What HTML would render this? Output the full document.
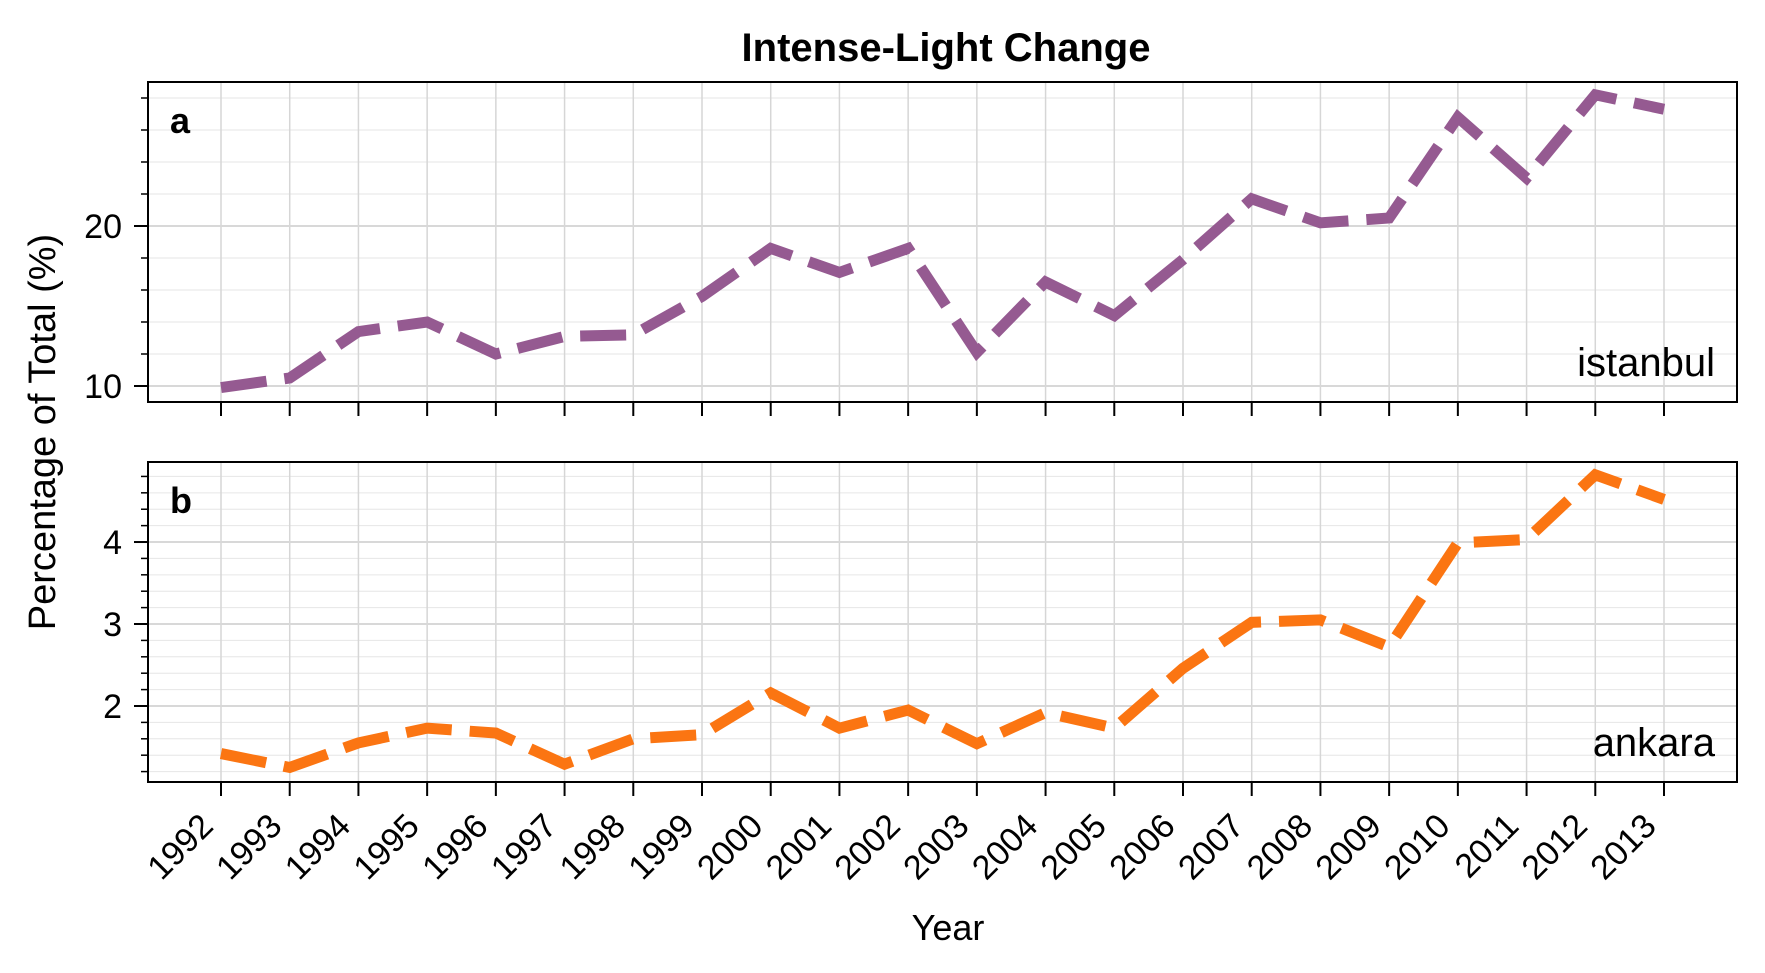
<!DOCTYPE html>
<html><head><meta charset="utf-8"><style>
html,body{margin:0;padding:0;background:#fff;}
svg{display:block;font-family:"Liberation Sans",sans-serif;}
</style></head><body>
<svg id="chart" width="1765" height="973" viewBox="0 0 1765 973" xmlns="http://www.w3.org/2000/svg"></svg>
<script>
const years = [1992,1993,1994,1995,1996,1997,1998,1999,2000,2001,2002,2003,2004,2005,2006,2007,2008,2009,2010,2011,2012,2013];
const istanbul = [9.9,10.5,13.4,14.0,12.0,13.1,13.2,15.6,18.6,17.1,18.6,12.1,16.5,14.4,17.9,21.7,20.2,20.5,26.8,23.0,28.2,27.3];
const ankara = [1.42,1.25,1.55,1.73,1.67,1.29,1.60,1.65,2.16,1.73,1.95,1.54,1.92,1.73,2.46,3.02,3.05,2.72,3.99,4.03,4.82,4.52];
const ticksA = [10,20];
const ticksB = [2,3,4];

const NS='http://www.w3.org/2000/svg';
const svg=document.getElementById('chart');
function mk(tag,attrs,parent){const e=document.createElementNS(NS,tag);for(const k in attrs)e.setAttribute(k,attrs[k]);(parent||svg).appendChild(e);return e;}
const L=148,R=1737;
const x=v=>221+(v-1992)*(1664-221)/21;

function panel(cfg){
  const g=mk('g',{});
  
  
  const y=v=>cfg.bot-(v-cfg.d0)/(cfg.d1-cfg.d0)*(cfg.bot-cfg.top);
  for(let v=Math.ceil(cfg.d0/cfg.minor-1e-6)*cfg.minor; v<=cfg.d1; v+=cfg.minor){
    const yy=y(v);
    const ln=mk('line',{x1:L,x2:R,y1:yy,y2:yy,stroke:'#e6e6e6','stroke-width':1},g);
    
    
    const t=mk('line',{x1:L,x2:L-7,y1:yy,y2:yy,stroke:'#000','stroke-width':1.5},g);
    
    
  }
  years.forEach(yr=>{
    const xx=x(yr);
    const ln=mk('line',{x1:xx,x2:xx,y1:cfg.top,y2:cfg.bot,stroke:'#d6d6d6','stroke-width':1.5},g);
    
    
    const t=mk('line',{x1:xx,x2:xx,y1:cfg.bot,y2:cfg.bot+14,stroke:'#000','stroke-width':2},g);
    
    
  });
  cfg.ticks.forEach(v=>{
    const yy=y(v);
    const ln=mk('line',{x1:L,x2:R,y1:yy,y2:yy,stroke:'#d8d8d8','stroke-width':2},g);
    
    
    const t=mk('line',{x1:L,x2:L-14,y1:yy,y2:yy,stroke:'#000','stroke-width':2},g);
    
    
    const tx=mk('text',{x:L-26,y:yy+12,'text-anchor':'end','font-size':34},g);
    tx.textContent=v;
    
    
  });
  const pts=cfg.data.map((v,i)=>x(years[i])+','+y(v)).join(' ');
  const pl=mk('polyline',{points:pts,fill:'none',stroke:cfg.color,'stroke-width':11,'stroke-dasharray':'46 18','stroke-linejoin':'miter'},g);
  
  
  const fr=mk('rect',{x:L,y:cfg.top,width:R-L,height:cfg.bot-cfg.top,fill:'none',stroke:'#000','stroke-width':2},g);
  
  
  const lt=mk('text',{x:170,y:cfg.top+51,'font-size':36,'font-weight':'bold'},g);
  lt.textContent=cfg.letter;
  
  
  const st=mk('text',{x:R-22,y:cfg.bot-26,'text-anchor':'end','font-size':40},g);
  st.textContent=cfg.series;
  
  
}
panel({name:'panel-a',top:82,bot:402,d0:9.0,d1:29.0,minor:2,ticks:ticksA,data:istanbul,color:'#955a91',letter:'a',series:'istanbul'});
panel({name:'panel-b',top:462,bot:782,d0:1.073,d1:4.976,minor:0.2,ticks:ticksB,data:ankara,color:'#fb7512',letter:'b',series:'ankara'});

years.forEach(yr=>{
  const xx=x(yr)-6, yy=828;
  const t=mk('text',{x:xx,y:yy,'text-anchor':'end','font-size':34,transform:`rotate(-45 ${xx} ${yy})`});
  t.textContent=yr;
  
  
});
const title=mk('text',{x:946,y:61,'text-anchor':'middle','font-size':40,'font-weight':'bold'});
title.textContent='Intense-Light Change';


const xl=mk('text',{x:948,y:940,'text-anchor':'middle','font-size':36});
xl.textContent='Year';


const yl=mk('text',{x:55,y:432,'text-anchor':'middle','font-size':38,transform:'rotate(-90 55 432)'});
yl.textContent='Percentage of Total (%)';


</script>
</body></html>
